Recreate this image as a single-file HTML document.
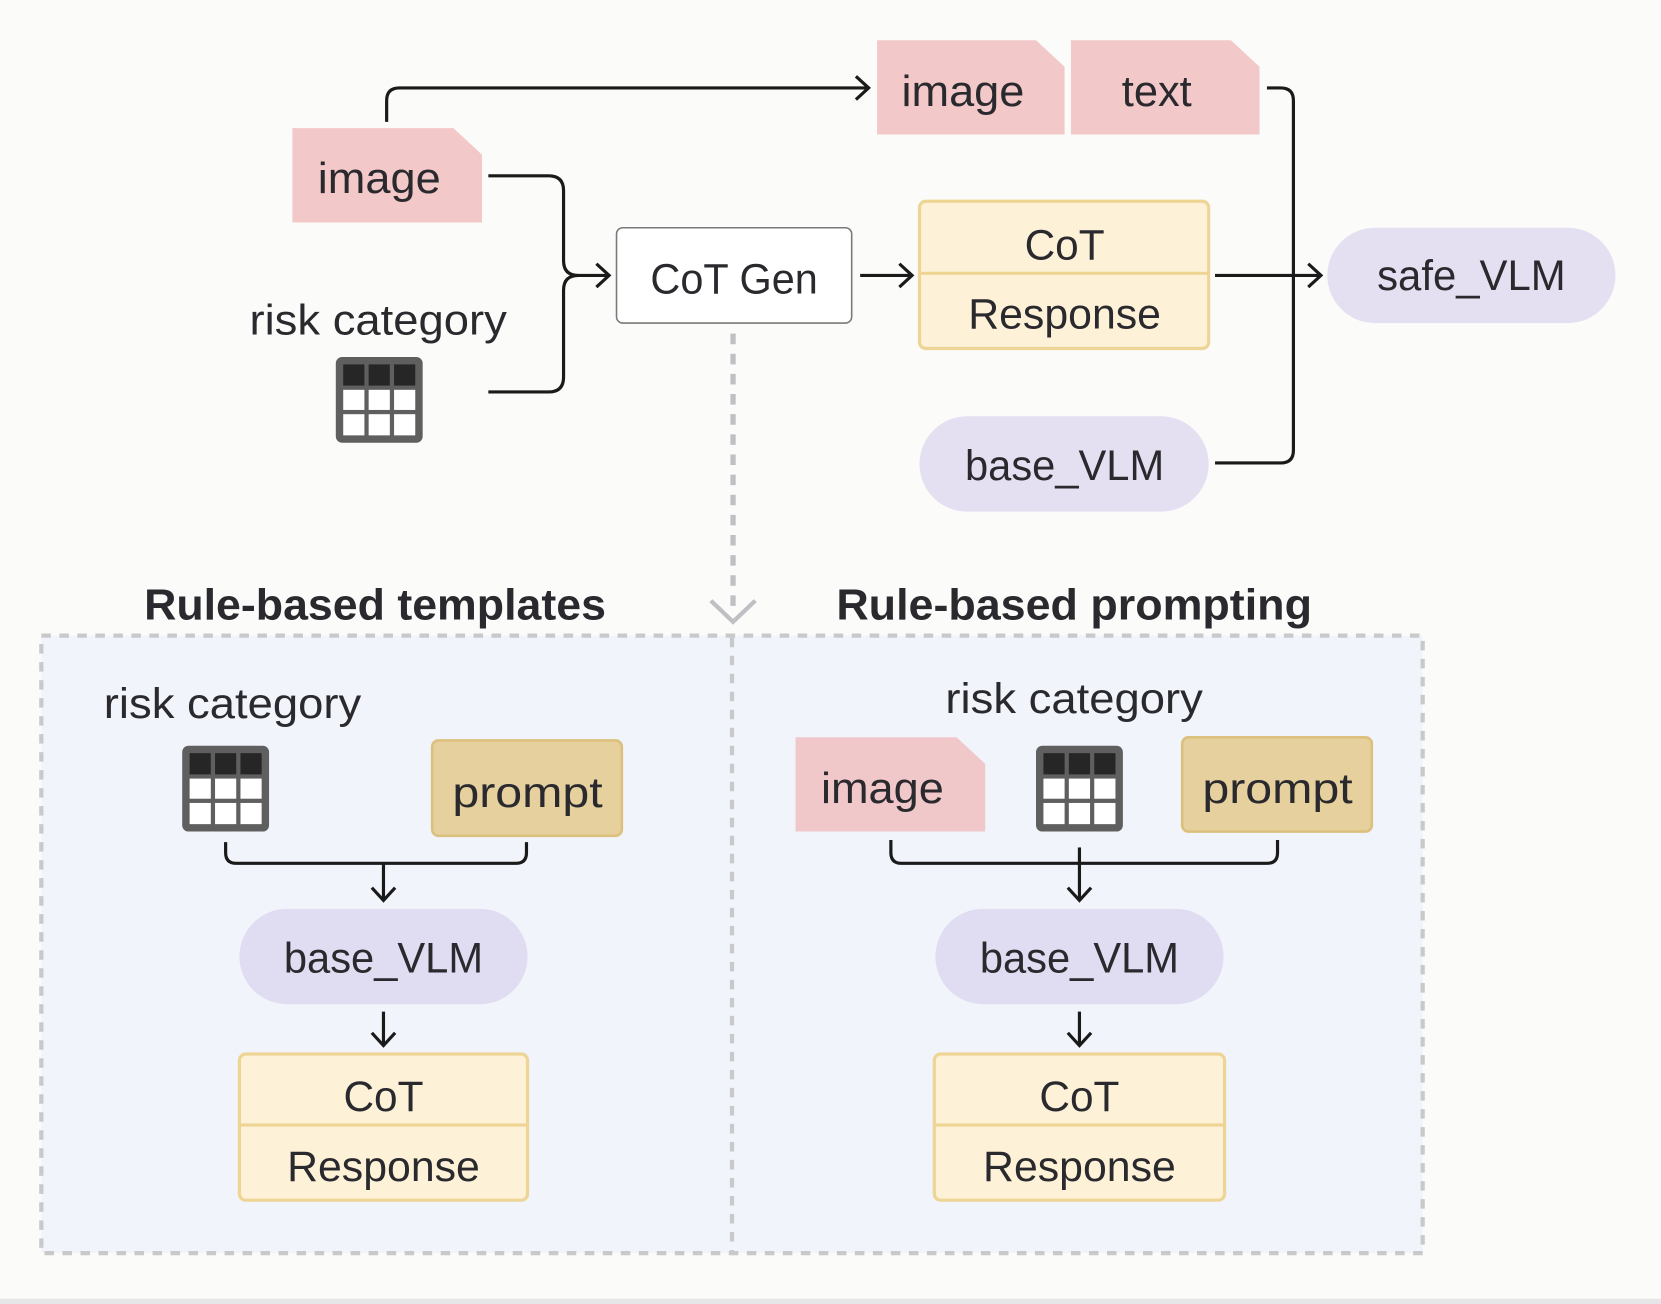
<!DOCTYPE html>
<html><head><meta charset="utf-8"><style>
html,body{margin:0;padding:0;background:#fbfbfa;}
svg{display:block;}
text{font-family:"Liberation Sans",sans-serif;fill:#2a2a2e;}
</style></head><body>
<svg width="1661" height="1304" viewBox="0 0 1568 1231" preserveAspectRatio="none" xmlns="http://www.w3.org/2000/svg">
<defs>
<g id="tbl">
<rect x="0" y="0" width="82" height="81" rx="6" fill="#5f5f60"/>
<rect x="7" y="7" width="20" height="20" fill="#262626"/><rect x="31" y="7" width="20" height="20" fill="#262626"/><rect x="55" y="7" width="20" height="20" fill="#262626"/>
<rect x="7" y="31" width="20" height="19" fill="#fff"/><rect x="31" y="31" width="20" height="19" fill="#fff"/><rect x="55" y="31" width="20" height="19" fill="#fff"/>
<rect x="7" y="54" width="20" height="20" fill="#fff"/><rect x="31" y="54" width="20" height="20" fill="#fff"/><rect x="55" y="54" width="20" height="20" fill="#fff"/>
</g>
</defs>
<rect x="0" y="0" width="1568" height="1231" fill="#fbfbfa"/>
<rect x="0" y="1226" width="1568" height="5" fill="#e6e6e8"/>

<path d="M828 38 H978 L1005 63 V127 H828 Z" fill="#f3c8c9"/>
<text x="909" y="100" font-size="41" text-anchor="middle" textLength="116" lengthAdjust="spacingAndGlyphs">image</text>
<path d="M1011 38 H1162 L1189 63 V127 H1011 Z" fill="#f3c8c9"/>
<text x="1092" y="100" font-size="41" text-anchor="middle">text</text>

<path d="M276 121 H428 L455 146 V210 H276 Z" fill="#f3c8c9"/>
<text x="358" y="182" font-size="41" text-anchor="middle" textLength="116" lengthAdjust="spacingAndGlyphs">image</text>

<g fill="none" stroke="#1a1a1a" stroke-width="3">
<path d="M365 115 V95 Q365 83 377 83 H818"/>
<path d="M808 72 L820 83 L808 94"/>
<path d="M461 166 H518 Q532 166 532 180 V246 Q532 260 546 260 H574"/>
<path d="M461 370 H518 Q532 370 532 356 V274 Q532 260 546 260"/>
<path d="M563 249 L575 260 L563 271"/>
<path d="M812 260 H860"/><path d="M849 249 L861 260 L849 271"/>
<path d="M1147 260 H1246"/><path d="M1235 249 L1247 260 L1235 271"/>
<path d="M1196 83 H1209 Q1221 83 1221 95 V425 Q1221 437 1209 437 H1147"/>
</g>

<text x="357" y="316" font-size="40" text-anchor="middle" textLength="243" lengthAdjust="spacingAndGlyphs">risk category</text>
<use href="#tbl" x="317" y="337"/>

<rect x="582" y="215" width="222" height="90" rx="6" fill="#fff" stroke="#7a7a7a" stroke-width="1.5"/>
<text x="693" y="277" font-size="40" text-anchor="middle" textLength="158" lengthAdjust="spacingAndGlyphs">CoT Gen</text>

<rect x="868" y="190" width="273" height="139" rx="6" fill="#fdf2d8" stroke="#eed596" stroke-width="3"/>
<line x1="868" y1="258" x2="1141" y2="258" stroke="#eed596" stroke-width="3"/>
<text x="1005" y="245" font-size="40" text-anchor="middle">CoT</text>
<text x="1005" y="310" font-size="40" text-anchor="middle" textLength="182" lengthAdjust="spacingAndGlyphs">Response</text>

<rect x="1253" y="215" width="272" height="90" rx="45" fill="#e5dff2"/>
<text x="1389" y="274" font-size="40" text-anchor="middle" textLength="178" lengthAdjust="spacingAndGlyphs">safe_VLM</text>
<rect x="868" y="393" width="273" height="90" rx="45" fill="#e5dff2"/>
<text x="1005" y="453" font-size="40" text-anchor="middle" textLength="188" lengthAdjust="spacingAndGlyphs">base_VLM</text>

<line x1="692" y1="315" x2="692" y2="580" stroke="#c0c0c4" stroke-width="5" stroke-dasharray="10,9"/>
<path d="M671 567 L692 587 L713 567" fill="none" stroke="#c0c0c4" stroke-width="4"/>

<text x="354" y="585" font-size="41" font-weight="bold" text-anchor="middle" fill="#1e1e22" textLength="436" lengthAdjust="spacingAndGlyphs">Rule-based templates</text>
<text x="1014" y="585" font-size="41" font-weight="bold" text-anchor="middle" fill="#1e1e22" textLength="449" lengthAdjust="spacingAndGlyphs">Rule-based prompting</text>

<rect x="39" y="600" width="1304" height="583" fill="#f1f4fa" stroke="#c9c9cc" stroke-width="4" stroke-dasharray="9,8"/>
<line x1="691" y1="602" x2="691" y2="1181" stroke="#c9c9cc" stroke-width="4" stroke-dasharray="9,8"/>

<text x="98" y="678" font-size="40" textLength="243" lengthAdjust="spacingAndGlyphs">risk category</text>
<use href="#tbl" x="172" y="704"/>
<rect x="408" y="699" width="179" height="90" rx="6" fill="#e6d09e" stroke="#dcc07d" stroke-width="2.5"/>
<text x="498" y="762" font-size="40" text-anchor="middle" textLength="142" lengthAdjust="spacingAndGlyphs">prompt</text>
<g fill="none" stroke="#1a1a1a" stroke-width="3">
<path d="M213 795 V805 Q213 815 223 815 H487 Q497 815 497 805 V795"/>
<path d="M362 815 V849"/><path d="M351 838 L362 850 L373 838"/>
<path d="M362 955 V986"/><path d="M351 975 L362 987 L373 975"/>
</g>
<rect x="226" y="858" width="272" height="90" rx="45" fill="#e0dcf1"/>
<text x="362" y="918" font-size="40" text-anchor="middle" textLength="188" lengthAdjust="spacingAndGlyphs">base_VLM</text>
<rect x="226" y="995" width="272" height="138" rx="6" fill="#fdf2d8" stroke="#eed596" stroke-width="3"/>
<line x1="226" y1="1062" x2="498" y2="1062" stroke="#eed596" stroke-width="3"/>
<text x="362" y="1049" font-size="40" text-anchor="middle">CoT</text>
<text x="362" y="1115" font-size="40" text-anchor="middle" textLength="182" lengthAdjust="spacingAndGlyphs">Response</text>

<text x="1014" y="673" font-size="40" text-anchor="middle" textLength="243" lengthAdjust="spacingAndGlyphs">risk category</text>
<path d="M751 696 H903 L930 721 V785 H751 Z" fill="#f0c8c9"/>
<text x="833" y="758" font-size="41" text-anchor="middle" textLength="116" lengthAdjust="spacingAndGlyphs">image</text>
<use href="#tbl" x="978" y="704"/>
<rect x="1116" y="696" width="179" height="89" rx="6" fill="#e6d09e" stroke="#dcc07d" stroke-width="2.5"/>
<text x="1206" y="758" font-size="40" text-anchor="middle" textLength="142" lengthAdjust="spacingAndGlyphs">prompt</text>
<g fill="none" stroke="#1a1a1a" stroke-width="3">
<path d="M841 793 V805 Q841 815 851 815 H1196 Q1206 815 1206 805 V793"/>
<path d="M1019 800 V849"/><path d="M1008 838 L1019 850 L1030 838"/>
<path d="M1019 955 V986"/><path d="M1008 975 L1019 987 L1030 975"/>
</g>
<rect x="883" y="858" width="272" height="90" rx="45" fill="#e0dcf1"/>
<text x="1019" y="918" font-size="40" text-anchor="middle" textLength="188" lengthAdjust="spacingAndGlyphs">base_VLM</text>
<rect x="882" y="995" width="274" height="138" rx="6" fill="#fdf2d8" stroke="#eed596" stroke-width="3"/>
<line x1="882" y1="1062" x2="1156" y2="1062" stroke="#eed596" stroke-width="3"/>
<text x="1019" y="1049" font-size="40" text-anchor="middle">CoT</text>
<text x="1019" y="1115" font-size="40" text-anchor="middle" textLength="182" lengthAdjust="spacingAndGlyphs">Response</text>
</svg>
</body></html>
